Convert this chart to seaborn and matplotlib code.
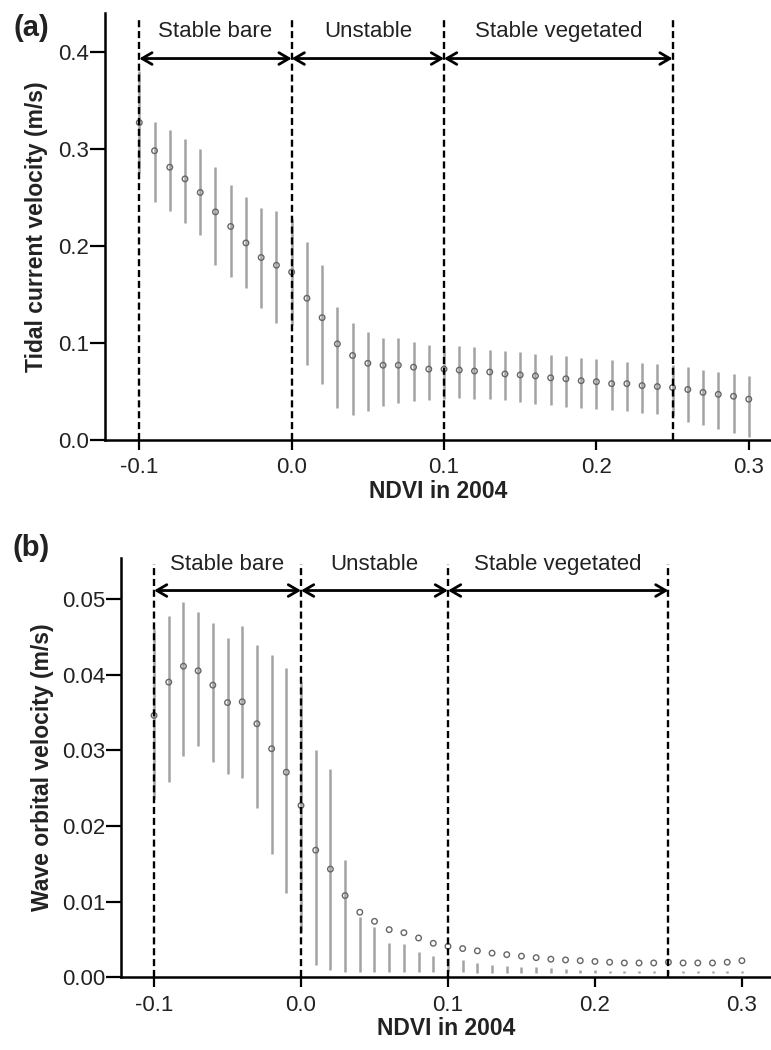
import numpy as np
import pandas as pd
import matplotlib
matplotlib.use("Agg")
import matplotlib.pyplot as plt
import seaborn as sns

# ---------------- data ----------------
ndvi = [round(-0.10 + 0.01 * i, 2) for i in range(41)]

tidal_mean = [0.327, 0.298, 0.281, 0.269, 0.255, 0.235, 0.220, 0.203, 0.188, 0.180,
              0.173, 0.146, 0.126, 0.099, 0.087, 0.079, 0.077, 0.077, 0.075, 0.073,
              0.073, 0.072, 0.071, 0.070, 0.068, 0.067, 0.066, 0.064, 0.063, 0.061,
              0.060, 0.058, 0.058, 0.056, 0.055, 0.054, 0.052, 0.049, 0.047, 0.045,
              0.042]
tidal_low = [0.275, 0.245, 0.236, 0.224, 0.211, 0.180, 0.168, 0.157, 0.136, 0.120,
             0.118, 0.077, 0.058, 0.033, 0.026, 0.030, 0.035, 0.038, 0.040, 0.041,
             0.042, 0.043, 0.042, 0.042, 0.041, 0.039, 0.037, 0.036, 0.034, 0.033,
             0.032, 0.031, 0.030, 0.028, 0.027, 0.025, 0.019, 0.015, 0.011, 0.007,
             0.003]
tidal_high = [0.380, 0.328, 0.319, 0.310, 0.300, 0.281, 0.263, 0.250, 0.239, 0.236,
              0.228, 0.204, 0.180, 0.137, 0.121, 0.111, 0.105, 0.105, 0.101, 0.098,
              0.098, 0.097, 0.096, 0.093, 0.092, 0.091, 0.089, 0.088, 0.086, 0.084,
              0.083, 0.082, 0.080, 0.079, 0.078, 0.077, 0.075, 0.072, 0.070, 0.068,
              0.066]

wave_mean = [0.0346, 0.0390, 0.0411, 0.0405, 0.0386, 0.0363, 0.0364, 0.0335, 0.0302, 0.0271,
             0.0227, 0.0168, 0.0143, 0.0108, 0.0086, 0.0074, 0.0063, 0.0059, 0.0052, 0.0045,
             0.0041, 0.0038, 0.0035, 0.0032, 0.0030, 0.0028, 0.0026, 0.0024, 0.0023, 0.0022,
             0.0021, 0.0020, 0.0019, 0.0019, 0.0019, 0.0020, 0.0019, 0.0019, 0.0019, 0.0020,
             0.0022]
wave_low = [0.0235, 0.0258, 0.0293, 0.0305, 0.0284, 0.0268, 0.0263, 0.0224, 0.0163, 0.0111,
            0.0060, 0.0016, 0.0010, 0.0007, 0.0007, 0.0007, 0.0007, 0.0007, 0.0007, 0.0007,
            0.0007, 0.0007, 0.0006, 0.0006, 0.0006, 0.0006, 0.0006, 0.0006, 0.0006, 0.0006,
            0.0006, 0.0006, 0.0006, 0.0006, 0.0006, 0.0006, 0.0006, 0.0006, 0.0006, 0.0006,
            0.0006]
wave_high = [0.0460, 0.0477, 0.0496, 0.0482, 0.0468, 0.0448, 0.0464, 0.0439, 0.0426, 0.0409,
             0.0390, 0.0300, 0.0275, 0.0155, 0.0080, 0.0066, 0.0046, 0.0044, 0.0034, 0.0028,
             0.0025, 0.0023, 0.0019, 0.0016, 0.0015, 0.0014, 0.0013, 0.0012, 0.0011, 0.0010,
             0.0010, 0.0009, 0.0009, 0.0009, 0.0009, 0.0009, 0.0009, 0.0009, 0.0009, 0.0009,
             0.0009]

boundaries = [-0.10, 0.00, 0.10, 0.25]
zone_labels = ["Stable bare", "Unstable", "Stable vegetated"]
xticks = [-0.1, 0.0, 0.1, 0.2, 0.3]
xticklabels = ["-0.1", "0.0", "0.1", "0.2", "0.3"]
yticks_a = [0.0, 0.1, 0.2, 0.3, 0.4]
yticks_b = [0.00, 0.01, 0.02, 0.03, 0.04, 0.05]

# ---------------- style ----------------
sns.set_theme(style="ticks")
plt.rcParams["font.family"] = ["Liberation Sans", "DejaVu Sans"]
TXT = "#222222"

fig = plt.figure(figsize=(7.71, 10.5), dpi=100)
ax_a = fig.add_axes([0.1366, 0.581, 0.8634, 0.4067])
ax_b = fig.add_axes([0.1573, 0.0692, 0.8427, 0.3994])


def panel(ax, mean, low, high, ylim, yticks, yfmt, ylabel, arrow_y, label_y, xlim,
          ylab_x):
    df = pd.DataFrame({"ndvi": ndvi, "mean": mean, "low": low, "high": high})
    ax.vlines(df["ndvi"], df["low"], df["high"], color="#a3a3a3", lw=1.8, zorder=2)
    sns.scatterplot(data=df, x="ndvi", y="mean", ax=ax, s=16, marker="o",
                    facecolor="none", edgecolor="#666666", linewidth=1.0,
                    zorder=3, legend=False)
    for b in boundaries:
        ax.axvline(b, color="black", lw=1.7, ls=(0, (3, 1.6)), zorder=4,
                   ymax=0.985)
    for (x0, x1), lab in zip(zip(boundaries[:-1], boundaries[1:]), zone_labels):
        ax.annotate("", xy=(x0, arrow_y), xytext=(x1, arrow_y),
                    arrowprops=dict(arrowstyle="<->,head_length=0.6,head_width=0.35",
                                    color="black", lw=2.0, shrinkA=0, shrinkB=0),
                    zorder=5)
        ax.text((x0 + x1) / 2, label_y, lab, ha="center", va="center",
                fontsize=16, color=TXT)
    ax.set_xlim(*xlim)
    ax.set_ylim(*ylim)
    ax.set_xticks(xticks)
    ax.set_xticklabels(xticklabels)
    ax.set_yticks(yticks)
    ax.set_yticklabels([yfmt.format(v) for v in yticks])
    ax.tick_params(axis="x", direction="out", length=7.5, width=1.6,
                   labelsize=16, colors="black", labelcolor=TXT, pad=5)
    ax.tick_params(axis="y", direction="out", length=10.5, width=1.6,
                   labelsize=16, colors="black", labelcolor=TXT, pad=1)
    for s in ["top", "right"]:
        ax.spines[s].set_visible(False)
    for s in ["left", "bottom"]:
        ax.spines[s].set_linewidth(1.8)
        ax.spines[s].set_color("black")
    ax.set_xlabel("NDVI in 2004", fontsize=16.5, fontweight="bold", color=TXT, labelpad=1)
    ax.set_ylabel(ylabel, fontsize=16.5, fontweight="bold", color=TXT)
    ax.yaxis.label.set_verticalalignment("center")
    ax.yaxis.set_label_coords(ylab_x, 0.5)


panel(ax_a, tidal_mean, tidal_low, tidal_high, (0, 0.44), yticks_a, "{:.1f}",
      "Tidal current velocity (m/s)", 0.393, 0.421, (-0.1223, 0.3146), -0.104)
panel(ax_b, wave_mean, wave_low, wave_high, (0, 0.0554), yticks_b, "{:.2f}",
      "Wave orbital velocity (m/s)", 0.0511, 0.0545, (-0.1223, 0.3198), -0.122)

fig.text(0.018, 0.973, "(a)", fontsize=21, fontweight="bold", color=TXT, va="center")
fig.text(0.016, 0.478, "(b)", fontsize=21, fontweight="bold", color=TXT, va="center")

fig.savefig("out.png", dpi=100, facecolor="white")
